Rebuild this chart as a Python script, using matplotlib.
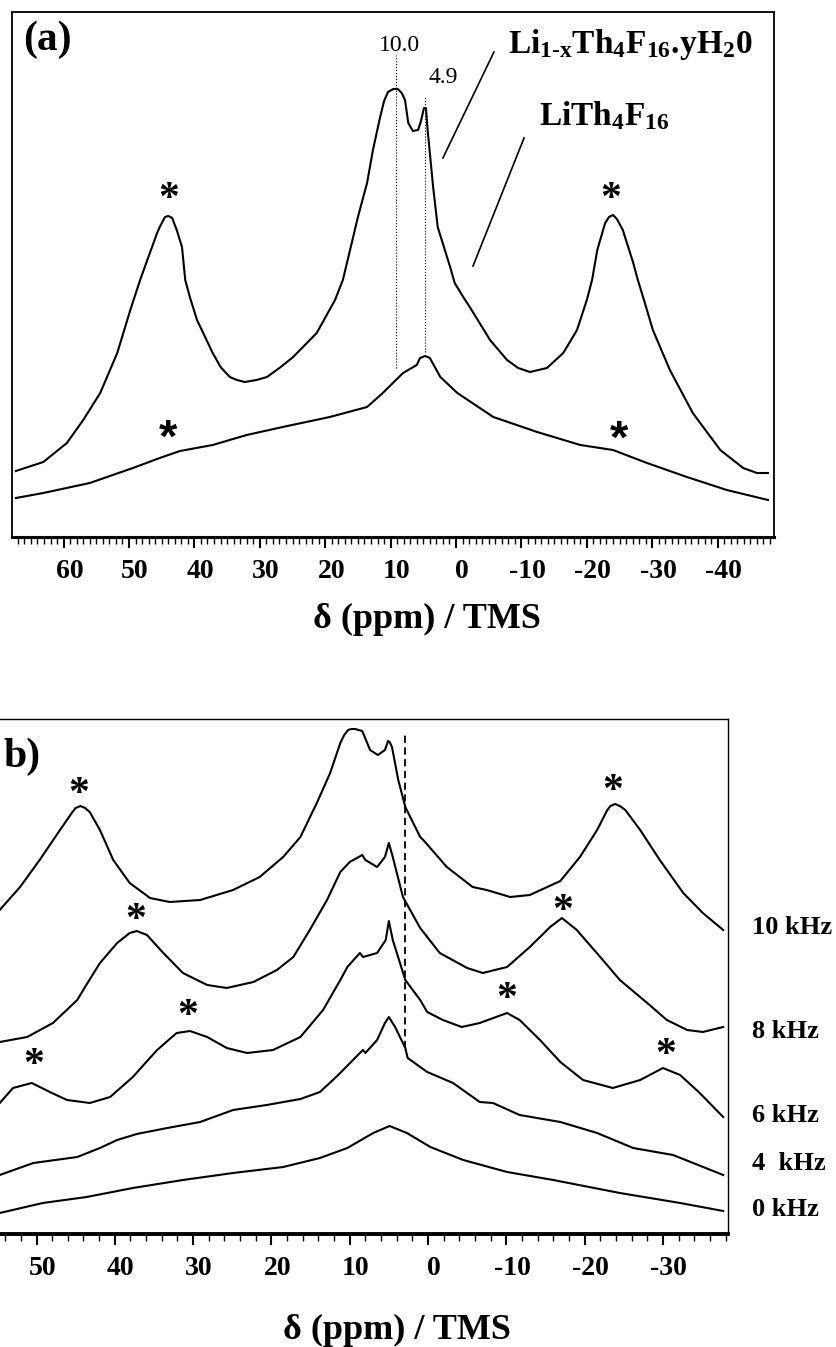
import numpy as np
import matplotlib
matplotlib.use('Agg')
import matplotlib.pyplot as plt
import matplotlib.transforms as mtransforms
from matplotlib.ticker import FixedLocator, MultipleLocator

plt.rcParams['font.family'] = ['Liberation Serif', 'DejaVu Serif']
plt.rcParams['axes.unicode_minus'] = False
plt.rcParams['mathtext.fontset'] = 'custom'
plt.rcParams['mathtext.rm'] = 'Liberation Serif'
plt.rcParams['mathtext.bf'] = 'Liberation Serif:bold'

# (a) upper trace: Li1-xTh4F16.yH2O (MAS), ppm / intensity
a_hyd_ppm = [67.3, 63.1, 59.5, 57.0, 54.4, 51.8, 49.8, 48.3, 47.2, 45.7, 45.3, 44.5, 44.0, 43.4,
             42.7, 41.9, 41.4, 40.7, 39.6, 37.2, 36.0, 34.6, 33.5, 32.3, 30.5, 28.9, 26.8, 24.9,
             21.3, 18.5, 17.3, 16.2, 15.0, 13.6, 12.7, 11.6, 11.0, 10.4, 9.6, 8.9, 8.3, 7.8, 7.3,
             6.6, 5.8, 5.4, 4.9, 4.6, 4.3, 3.5, 2.8, 0.9, 0.2, -1.1, -2.1, -5.2, -7.8, -9.5, -11.3,
             -13.9, -16.4, -18.5, -20.0, -20.8, -21.6, -22.8, -23.4, -24.0, -24.6, -25.5, -27.1,
             -27.8, -28.6, -30.1, -32.7, -36.2, -40.4, -43.9, -46.0, -47.7]
a_hyd_int = [66, 75, 94, 117, 144, 184, 227, 257, 277, 304, 310, 320, 321, 319,
             307, 290, 257, 240, 217, 184, 170, 160, 157, 155, 157, 160, 170, 180,
             204, 237, 257, 287, 320, 354, 387, 420, 436, 445, 448, 448, 444, 437, 414,
             406, 407, 415, 429, 429, 404, 350, 310, 270, 254, 240, 230, 197, 177, 169, 165,
             169, 184, 207, 237, 257, 287, 314, 320, 322, 318, 307, 274,
             257, 240, 207, 167, 124, 87, 69, 64, 64]

# (a) lower trace: LiTh4F16 (static)
a_dry_ppm = [67.3, 63.1, 56.0, 49.4, 45.3, 42.2, 37.2, 32.0, 26.5, 19.3, 13.6, 11.2, 8.1, 6.0,
             5.5, 4.7, 4.0, 2.4, -0.2, -5.7, -12.4, -19.0, -24.0, -29.2, -35.3, -41.4, -47.7]
a_dry_int = [39, 44, 54, 69, 79, 86, 92, 102, 110, 120, 130, 144, 164, 172,
             179, 181, 179, 160, 144, 120, 105, 92, 87, 74, 60, 47, 37]

# (b) spinning-rate series
b10_ppm = [54.7, 52.1, 49.6, 47.0, 45.5, 45.0, 44.4, 43.8, 43.2, 41.9, 40.2, 38.1, 35.5, 33.0,
           29.1, 24.9, 21.5, 18.5, 16.3, 14.2, 12.5, 11.2, 10.7, 10.2, 9.8, 9.3, 8.4, 7.4, 6.4,
           5.5, 5.1, 4.9, 4.6, 3.8, 2.9, 1.0, 0.6, -2.4, -5.7, -7.5, -10.5, -13.0, -16.9, -19.4,
           -21.6, -22.9, -23.3, -23.9, -24.5, -25.2, -27.1, -29.6, -32.6, -35.1, -37.7]
b10_int = [324, 347, 374, 404, 421, 426, 428, 426, 422, 404, 374, 351, 336, 332,
           334, 344, 357, 377, 397, 431, 461, 491, 499, 504, 505, 505, 503, 484, 479,
           484, 493, 492, 487, 454, 427, 397, 394, 367, 347, 344, 337, 339, 353, 377,
           404, 424, 428, 430, 428, 424, 404, 374, 341, 321, 304]

b8_ppm = [54.7, 51.2, 47.9, 44.8, 43.8, 41.9, 39.7, 38.1, 37.2, 35.9, 33.8, 31.3, 28.2, 25.7,
          22.3, 19.3, 17.2, 15.1, 12.9, 11.2, 10.0, 8.4, 8.0, 6.5, 5.5, 5.0, 4.5, 3.2, 1.0,
          -1.5, -5.0, -7.0, -10.1, -13.0, -15.6, -17.1, -19.0, -22.0, -24.5, -28.0, -30.5,
          -33.1, -35.1, -37.7]
b8_int = [192, 197, 211, 234, 247, 271, 291, 301, 303, 299, 281, 261, 249, 246,
          252, 264, 277, 304, 334, 362, 372, 379, 374, 367, 377, 391, 377, 337, 306,
          281, 266, 261, 267, 287, 307, 316, 304, 277, 254, 231, 214,
          204, 202, 207]

b6_ppm = [54.7, 53.0, 50.6, 48.3, 46.1, 43.2, 40.6, 37.7, 34.6, 32.1, 30.4, 28.2, 25.7, 23.1,
          19.8, 16.3, 13.4, 11.2, 10.3, 8.7, 8.3, 6.5, 5.4, 5.0, 4.5, 2.9, 1.0, 0.1, -1.9,
          -4.3, -6.6, -10.1, -11.7, -14.3, -16.9, -19.8, -23.6, -27.1, -30.0, -32.2, -34.7,
          -37.7]
b6_int = [131, 146, 151, 142, 134, 131, 137, 157, 184, 201, 203, 197, 186, 181,
          184, 197, 224, 254, 267, 281, 277, 281, 294, 313, 294, 254, 234, 222, 214,
          207, 211, 221, 214, 194, 172, 154, 146, 154, 166, 159, 141,
          117]

b4_ppm = [54.7, 50.4, 44.8, 41.9, 39.7, 37.2, 33.3, 29.1, 24.9, 20.6, 16.3, 13.8, 11.6, 8.7,
          8.3, 8.0, 6.5, 5.5, 5.0, 4.2, 2.9, 2.6, 0.1, -3.2, -6.6, -8.3, -11.7, -16.9, -21.6,
          -26.2, -31.3, -37.7]
b4_int = [59, 71, 77, 86, 94, 100, 106, 112, 124, 129, 135, 142, 158, 181,
          184, 181, 194, 211, 217, 207, 186, 176, 162, 151, 132, 131, 119, 112, 101,
          86, 79, 59]

b0_ppm = [54.7, 49.2, 43.6, 37.7, 31.3, 24.9, 18.5, 13.8, 10.3, 7.0, 4.9, 2.7, -0.3, -4.5,
          -10.1, -16.0, -24.5, -32.2, -37.7]
b0_int = [21, 31, 37, 46, 54, 61, 67, 76, 86, 101, 108, 101, 87, 74,
          62, 54, 41, 31, 23]

b_traces = [(b10_ppm, b10_int), (b8_ppm, b8_int), (b6_ppm, b6_int), (b4_ppm, b4_int), (b0_ppm, b0_int)]
b_labels = ['10 kHz', '8 kHz', '6 kHz', '4  kHz', '0 kHz']

# spinning sidebands (asterisk positions)
a_sb_top = [(44.0, 337), (-23.7, 337)]
a_sb_low = [(44.0, 97), (-24.9, 96)]
b_sb = [(44.6, 439), (-23.6, 442), (37.3, 313), (-17.2, 322),
        (30.7, 217), (50.3, 168), (-10.1, 234), (-30.3, 178)]

a_ticks = [60, 50, 40, 30, 20, 10, 0, -10, -20, -30, -40]
b_ticks = [50, 40, 30, 20, 10, 0, -10, -20, -30]

fig = plt.figure(figsize=(8.37, 13.47), dpi=100)
axa = fig.add_axes([0.01434, 0.60134, 0.9104, 0.38976])
axb = fig.add_axes([-0.02186, 0.08389, 0.8916, 0.38233])

lw = 1.5
axa.plot(a_hyd_ppm, a_hyd_int, color='black', lw=lw)
axa.plot(a_dry_ppm, a_dry_int, color='black', lw=lw)
axa.set_xlim(67.89, -48.62)
axa.set_ylim(0, 525)

# position markers
axa.plot([9.2, 9.2], [169, 482], color='black', lw=0.8, ls=':')
axa.plot([4.8, 4.8], [185, 440], color='black', lw=0.8, ls=':')
axa.text(8.7, 491, '10.0', fontsize=17, ha='center', va='center')
axa.text(2.0, 459, '4.9', fontsize=17, ha='center', va='center')

axa.text(-8.0, 484, r'$\mathbf{Li_{1\text{-}x}Th_4F_{16}.\!yH_20}$', fontsize=24, ha='left', va='baseline')
axa.text(-12.7, 412, r'$\mathbf{LiTh_4F_{16}}$', fontsize=24, ha='left', va='baseline')
axa.plot([-5.8, 2.0], [485, 379], color='black', lw=1.2)
axa.plot([-10.4, -2.6], [399, 271], color='black', lw=1.2)

for x, y in a_sb_top:
    axa.text(x, y, '*', fontsize=30, fontweight='bold', ha='center', va='center')
for x, y in a_sb_low:
    axa.text(x, y, '*', fontsize=34, fontweight='bold', ha='center', va='center',
             family='Liberation Sans')

for x, y in b_traces:
    axb.plot(x, y, color='black', lw=lw)
axb.set_xlim(57.0, -38.31)
axb.set_ylim(0, 515)
axb.plot([2.9, 2.9], [186, 501], color='black', lw=1.3, ls=(0, (4, 2.5)))
for x, y in b_sb:
    axb.text(x, y, '*', fontsize=30, fontweight='bold', ha='center', va='center')

lab_y = [0.3118, 0.2339, 0.1715, 0.1359, 0.1024]
for txt, yy in zip(b_labels, lab_y):
    fig.text(0.898, yy, txt, fontsize=19, fontweight='bold', ha='left', va='center')

fig.text(0.0275, 0.9703, '(a)', fontsize=30, fontweight='bold', ha='left', va='center')
fig.text(0.0036, 0.4385, 'b)', fontsize=30, fontweight='bold', ha='left', va='center')

offset = mtransforms.ScaledTranslation(6 / 100, 0, fig.dpi_scale_trans)
for ax, ticks, minor, bw, ow in [(axa, a_ticks, 1, 2.2, 1.3), (axb, b_ticks, 2, 2.8, 1.0)]:
    ax.yaxis.set_visible(False)
    ax.xaxis.set_major_locator(FixedLocator(ticks))
    ax.set_xticklabels([str(t) for t in ticks])
    ax.xaxis.set_minor_locator(MultipleLocator(minor))
    ax.tick_params(axis='x', which='major', direction='out', length=8, width=1.5,
                   labelsize=20, pad=8)
    ax.tick_params(axis='x', which='minor', direction='out', length=5, width=1.0)
    for lab in ax.get_xticklabels():
        lab.set_fontweight('bold')
        lab.set_transform(lab.get_transform() + offset)
    for s in ['top', 'left', 'right']:
        ax.spines[s].set_linewidth(ow)
    ax.spines['bottom'].set_linewidth(bw)

axa.set_xlabel(r'δ (ppm) / TMS', fontsize=26, fontweight='bold')
axa.xaxis.set_label_coords(0.5446, -0.158)
axa.xaxis.label.set_va('center')
axb.set_xlabel(r'δ (ppm) / TMS', fontsize=26, fontweight='bold')
axb.xaxis.set_label_coords(0.5565, -0.1864)
axb.xaxis.label.set_va('center')

fig.savefig('out.png', dpi=100)
